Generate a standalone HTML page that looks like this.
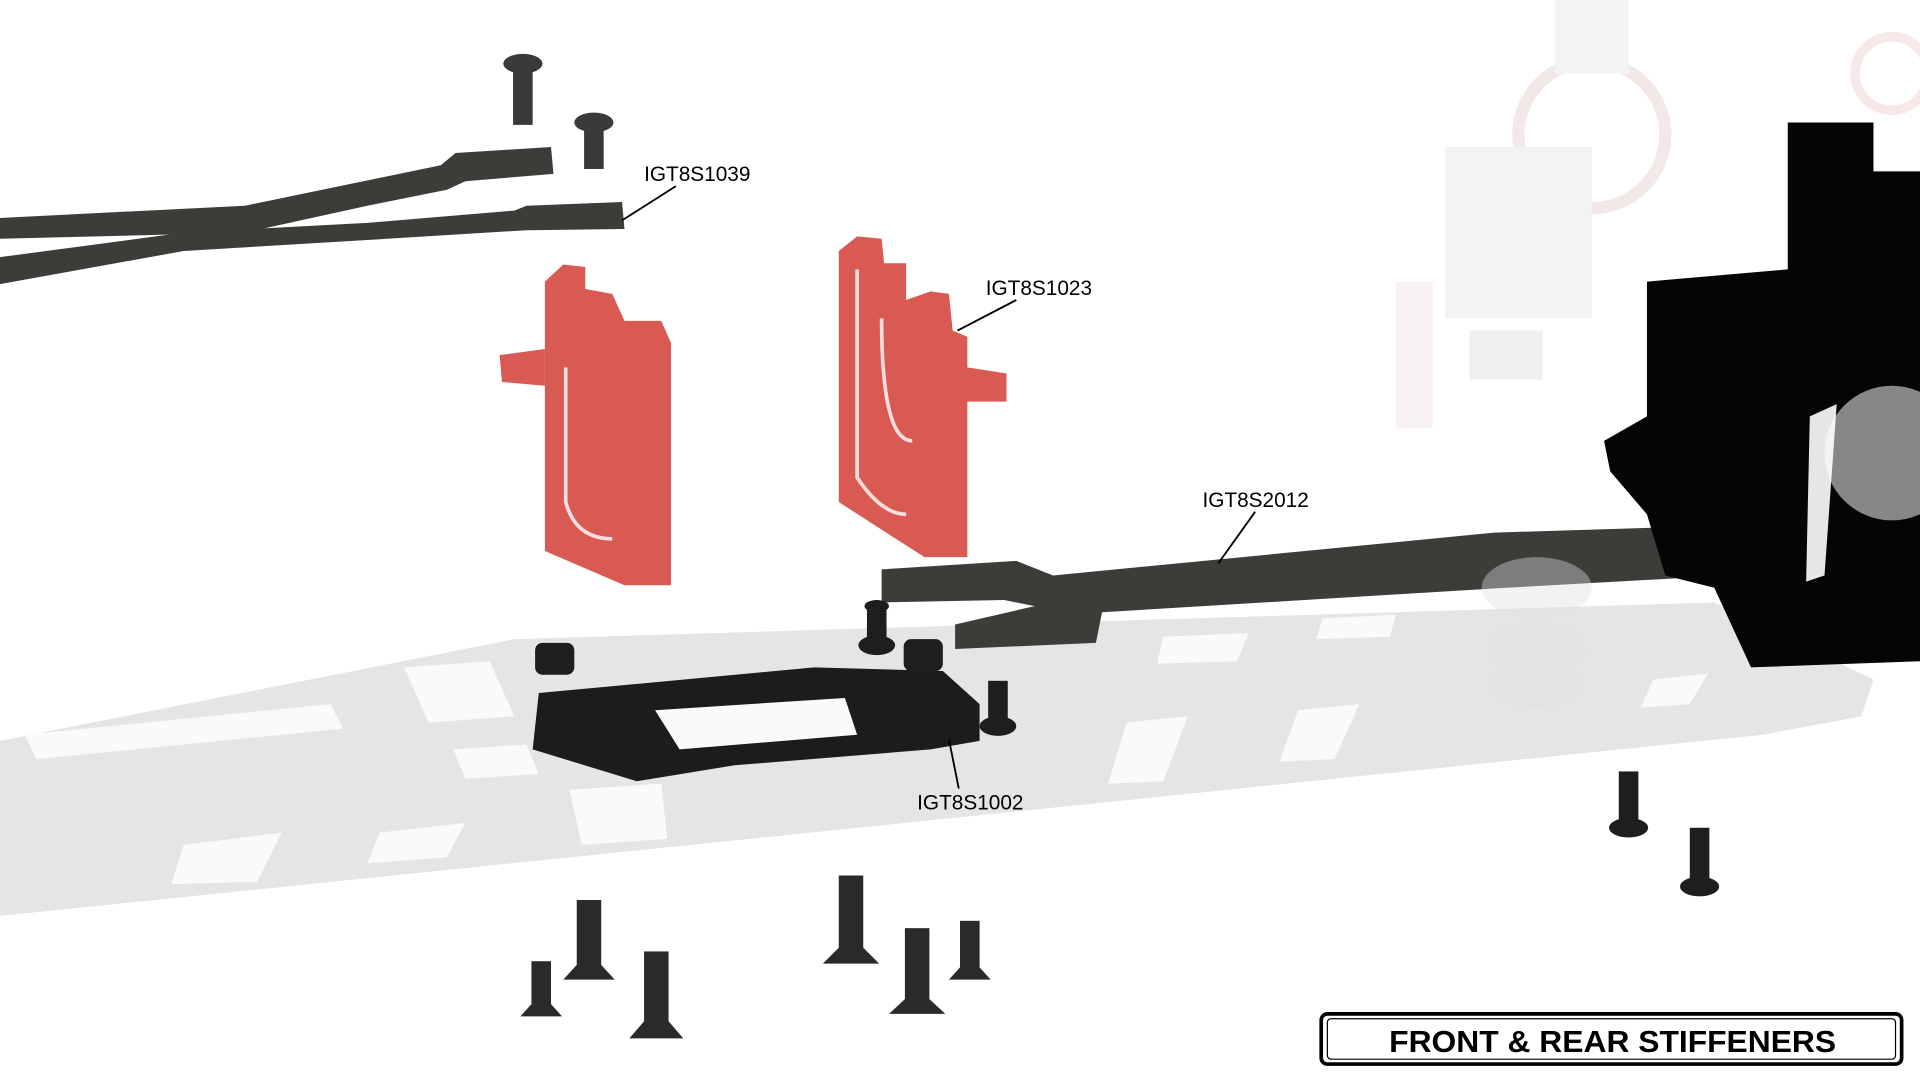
<!DOCTYPE html>
<html><head><style>html,body{margin:0;padding:0;background:#fff;width:1920px;height:1080px;overflow:hidden}</style></head>
<body>
<svg width="1920" height="1080" viewBox="0 0 1568 882" xmlns="http://www.w3.org/2000/svg" font-family="Liberation Sans, sans-serif">
<rect width="1568" height="882" fill="#fff"/>
<!-- faded right-side clutter -->
<g opacity="0.22">
<circle cx="1300" cy="110" r="60" fill="none" stroke="#c99" stroke-width="10"/>
<rect x="1180" y="120" width="120" height="140" fill="#ccc"/>
<rect x="1140" y="230" width="30" height="120" fill="#e6c8c8"/>
<rect x="1200" y="270" width="60" height="40" fill="#bbb"/>
<rect x="1270" y="0" width="60" height="60" fill="#ccc"/>
<circle cx="1545" cy="60" r="30" fill="none" stroke="#d99" stroke-width="8"/>
</g>
<!-- base plate -->
<polygon points="0,605 420,522 1400,492 1530,555 1520,585 1440,600 0,748" fill="#e5e5e5"/>
<g fill="#fafafa">
<polygon points="20,600 270,575 280,595 30,620"/>
<polygon points="330,545 400,540 420,585 350,590"/>
<polygon points="150,690 230,680 210,720 140,722"/>
<polygon points="310,680 380,672 365,700 300,705"/>
<polygon points="465,645 540,640 545,685 475,690"/>
<polygon points="920,590 970,585 950,638 905,640"/>
<polygon points="1060,580 1110,575 1090,620 1045,622"/>
<polygon points="950,520 1020,517 1010,540 945,542"/>
<polygon points="1350,555 1395,550 1380,575 1340,578"/>
<polygon points="370,612 430,608 440,632 380,636"/>
<polygon points="1080,505 1140,502 1135,520 1075,522"/>
</g>
<!-- top carbon strips -->
<path d="M0,178 L200,168 L360,135 L372,125 L450,120 L452,142 L380,148 L365,155 L300,168 L200,190 L0,195 Z" fill="#3b3d39"/>
<path d="M0,210 L150,190 L300,182 L420,172 L430,168 L508,165 L510,187 L430,188 L300,196 L150,205 L0,232 Z" fill="#3b3d39"/>
<!-- screws top -->
<g fill="#3a3a3a">
<ellipse cx="427" cy="52" rx="16" ry="8"/><rect x="419" y="56" width="16" height="46"/>
<ellipse cx="485" cy="100" rx="16" ry="8"/><rect x="477" y="104" width="16" height="34"/>
</g>
<!-- red brackets -->
<g fill="#d95a52">
<polygon points="445,230 460,216 478,218 478,236 500,240 510,262 540,262 548,280 548,478 510,478 445,450"/>
<polygon points="408,290 445,285 445,315 410,312"/>
<polygon points="685,205 700,193 720,195 722,215 740,215 740,245 760,238 775,240 778,270 790,275 790,300 822,305 822,328 790,328 790,455 755,455 685,410"/>
</g>
<g fill="none" stroke="#fff" stroke-width="3" opacity="0.8">
<path d="M462,300 L462,410 Q470,440 500,440"/>
<path d="M700,220 L700,390 Q720,420 740,420"/>
<path d="M720,260 Q720,360 745,360"/>
</g>
<!-- mid carbon strip -->
<path d="M720,465 L830,458 L860,470 L1220,435 L1380,430 L1410,440 L1410,470 L1230,480 L900,500 L895,525 L780,530 L780,510 L845,495 L820,490 L720,492 Z" fill="#3b3d39"/>
<!-- right black assembly -->
<polygon points="1460,100 1530,100 1530,140 1568,140 1568,540 1430,545 1400,480 1360,470 1345,420 1315,385 1310,360 1345,340 1345,230 1460,220" fill="#050505"/>
<circle cx="1545" cy="370" r="55" fill="#ddd" opacity="0.6"/>
<path d="M1478,340 L1500,330 L1490,470 L1475,475 Z" fill="#fff" opacity="0.9"/>
<g fill="#e5dede" opacity="0.4"><ellipse cx="1255" cy="480" rx="45" ry="25"/><ellipse cx="1255" cy="530" rx="40" ry="22"/><ellipse cx="1255" cy="560" rx="38" ry="18"/></g>
<!-- black plate -->
<polygon points="440,566 665,545 770,548 800,575 800,605 760,612 600,625 520,638 435,612" fill="#1b1c1b"/>
<polygon points="535,580 690,570 700,600 555,612" fill="#fafafa"/>
<!-- nuts & screws -->
<g fill="#1e1e1e">
<rect x="437" y="525" width="32" height="26" rx="6"/><rect x="738" y="522" width="32" height="26" rx="6"/>
<ellipse cx="716" cy="495" rx="10" ry="5"/><rect x="708" y="495" width="16" height="30"/><ellipse cx="716" cy="527" rx="15" ry="8"/>
<rect x="807" y="556" width="16" height="34"/><ellipse cx="815" cy="593" rx="15" ry="8"/>
<rect x="1322" y="630" width="16" height="42"/><ellipse cx="1330" cy="676" rx="16" ry="8"/>
<rect x="1380" y="676" width="16" height="46"/><ellipse cx="1388" cy="724" rx="16" ry="8"/>
</g>
<g fill="#2a2a2a">
<rect x="471" y="735" width="20" height="55"/><polygon points="460,800 502,800 491,788 471,788"/>
<rect x="434" y="785" width="16" height="38"/><polygon points="425,830 459,830 450,820 434,820"/>
<rect x="526" y="777" width="20" height="60"/><polygon points="514,848 558,848 546,834 526,834"/>
<rect x="685" y="715" width="20" height="62"/><polygon points="672,787 718,787 705,774 685,774"/>
<rect x="739" y="758" width="20" height="60"/><polygon points="726,828 772,828 759,816 739,816"/>
<rect x="784" y="752" width="16" height="40"/><polygon points="775,800 809,800 800,790 784,790"/>
</g>
<!-- labels -->
<g stroke="#000" stroke-width="1.5">
<line x1="552" y1="152" x2="508" y2="180"/>
<line x1="830" y1="245" x2="782" y2="270"/>
<line x1="1025" y1="418" x2="995" y2="460"/>
<line x1="783" y1="644" x2="775" y2="604"/>
</g>
<g font-size="17" fill="#000">
<text x="526" y="148">IGT8S1039</text>
<text x="805" y="241">IGT8S1023</text>
<text x="982" y="414">IGT8S2012</text>
<text x="749" y="661">IGT8S1002</text>
</g>
<!-- title -->
<rect x="1079" y="828" width="474" height="41" rx="5" fill="#fff" stroke="#000" stroke-width="3"/>
<rect x="1084" y="832" width="464" height="33" rx="3" fill="none" stroke="#000" stroke-width="1"/>
<text x="1317" y="859" font-size="25" font-weight="bold" text-anchor="middle" textLength="365" lengthAdjust="spacingAndGlyphs">FRONT &amp; REAR STIFFENERS</text>
</svg>
</body></html>
